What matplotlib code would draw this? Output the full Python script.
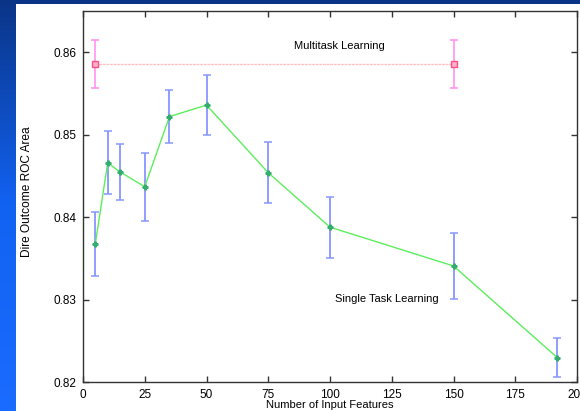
import numpy as np
import matplotlib
matplotlib.use("Agg")
import matplotlib.pyplot as plt
from matplotlib.patches import Rectangle
from matplotlib.colors import LinearSegmentedColormap

plt.rcParams['font.family'] = ['Liberation Sans', 'DejaVu Sans']
plt.rcParams['font.size'] = 8

# single task learning: ROC area vs. number of input features
stl_features = [5, 10, 15, 25, 35, 50, 75, 100, 150, 192]
stl_roc = [0.8368, 0.8466, 0.8455, 0.8437, 0.8522, 0.8536, 0.8454, 0.8388, 0.8341, 0.8230]
stl_err = [0.0039, 0.0038, 0.0034, 0.0041, 0.0032, 0.0036, 0.0037, 0.0037, 0.0040, 0.0024]

# multitask learning (flat reference)
mtl_features = [5, 150]
mtl_roc = [0.8586, 0.8586]
mtl_err = [0.0029, 0.0029]

x_ticks = [0, 25, 50, 75, 100, 125, 150, 175, 200]
y_ticks = [0.82, 0.83, 0.84, 0.85, 0.86]

fig = plt.figure(figsize=(5.8, 4.11), dpi=100)

# blue gradient slide background with a white panel
bg = fig.add_axes([0, 0, 1, 1], zorder=-10)
cmap = LinearSegmentedColormap.from_list("slide", ["#0a3486", "#1262f2", "#1a6bff"])
bg.imshow(np.linspace(0, 1, 256).reshape(-1, 1), aspect='auto', cmap=cmap,
          extent=[0, 1, 0, 1], transform=bg.transAxes)
bg.add_patch(Rectangle((16 / 580, 0), 1, 1 - 4 / 411, transform=bg.transAxes,
                       facecolor='white', edgecolor='none'))
bg.set_axis_off()

ax = fig.add_axes([83 / 580, 1 - 382.3 / 411, 494 / 580, 371.3 / 411])
ax.set_facecolor('white')

ax.errorbar(stl_features, stl_roc, yerr=stl_err, fmt='none', ecolor='#8696ff',
            elinewidth=1.3, capsize=3, capthick=1.1, zorder=2)
ax.plot(stl_features, stl_roc, color='#5cee5c', linewidth=1, marker='P',
        markersize=3.5, markerfacecolor='#36ad70', markeredgecolor='#36ad70', zorder=3)

ax.errorbar(mtl_features, mtl_roc, yerr=mtl_err, fmt='none', ecolor='#ff8cf0',
            elinewidth=1.1, capsize=3, capthick=1.1, zorder=2)
ax.plot(mtl_features, mtl_roc, color='#ffc0c0', linewidth=1, linestyle=(0, (2, 0.6)),
        marker='s', markersize=5, markerfacecolor='#ffb0d0', markeredgecolor='#ff5080',
        markeredgewidth=1, zorder=3)

ax.text(103.6, 0.8607, "Multitask Learning", ha='center', va='center')
ax.text(122.8, 0.8301, "Single Task Learning", ha='center', va='center')

ax.set_xlim(0, 200)
ax.set_ylim(0.82, 0.865)
ax.set_xticks(x_ticks)
ax.set_yticks(y_ticks)
ax.set_xticklabels([str(t) for t in x_ticks])
ax.set_yticklabels(["%.2f" % t for t in y_ticks])
ax.tick_params(direction='in', top=True, right=True, length=4, width=1,
               color='#333333', labelsize=8.5)
ax.tick_params(axis='x', pad=5)
ax.tick_params(axis='y', pad=5)
for s in ax.spines.values():
    s.set_color('#333333')
    s.set_linewidth(1)

ax.set_xlabel('Number of Input Features', fontsize=8)
ax.set_ylabel('Dire Outcome ROC Area', fontsize=8.6)
ax.xaxis.set_label_coords(0.5, -0.048)
ax.yaxis.set_label_coords(-0.102, 0.513)

fig.savefig('out.png', dpi=100)
